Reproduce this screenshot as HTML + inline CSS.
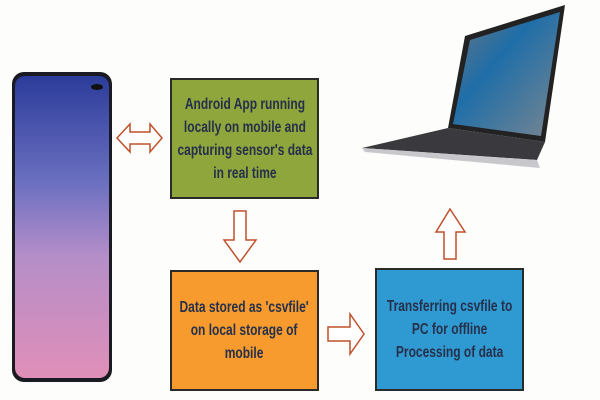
<!DOCTYPE html>
<html><head><style>
body{margin:0;width:600px;height:400px;background:#fdfdfb;position:relative;overflow:hidden;font-family:"Liberation Sans",sans-serif}
.box{position:absolute;border:2px solid #2a2a2a;box-sizing:border-box;display:flex;align-items:center;justify-content:center;text-align:center;color:#26304a;font-size:16px;font-weight:bold;line-height:23px}
.box span{display:inline-block;transform:scaleX(0.75);white-space:nowrap}
svg{position:absolute;left:0;top:0}
</style></head><body>
<svg width="600" height="400">
<defs>
<linearGradient id="ph" x1="0" y1="0" x2="0" y2="1">
<stop offset="0" stop-color="#2c3c9a"/><stop offset="0.35" stop-color="#6a6fc0"/><stop offset="0.6" stop-color="#b58ec8"/><stop offset="1" stop-color="#e08fb8"/></linearGradient>
<linearGradient id="sc" x1="0" y1="0" x2="1" y2="1">
<stop offset="0" stop-color="#6a747e"/><stop offset="0.4" stop-color="#1f6ea8"/><stop offset="1" stop-color="#7a8690"/></linearGradient>
</defs>
<rect x="12" y="72" width="100" height="310" rx="12" fill="#1a1a22"/>
<rect x="15" y="76" width="94" height="302" rx="10" fill="url(#ph)"/>
<ellipse cx="97" cy="87" rx="6" ry="3" fill="#111"/>
<polygon points="465,36 565,5 545,142 448,128" fill="#222"/>
<polygon points="470,40 560,12 541,136 453,124" fill="url(#sc)"/>
<polygon points="448,128 545,142 537,160 362,148" fill="#3a3a3e"/>
<polygon points="362,148 537,160 540,168 365,152" fill="#c8c8cc"/>
<polygon points="117,138 130,124 130,132 150,132 150,124 162,138 150,152 150,144 130,144 130,152" fill="#fff" stroke="#c0502a" stroke-width="1.5"/>
<polygon points="234,211 246,211 246,240 256,240 240,262 224,240 234,240" fill="#fff" stroke="#c0502a" stroke-width="1.5"/>
<polygon points="328,327 350,327 350,314 364,334 350,354 350,341 328,341" fill="#fff" stroke="#c0502a" stroke-width="1.5"/>
<polygon points="444,259 456,259 456,232 465,232 450,209 436,232 444,232" fill="#fff" stroke="#c0502a" stroke-width="1.5"/>
</svg>
<div class="box" style="left:170px;top:78px;width:149px;height:121px;background:#8ea63c"><span>Android App running<br>locally on mobile and<br>capturing sensor's data<br>in real time</span></div>
<div class="box" style="left:170px;top:270px;width:149px;height:121px;background:#f79b2e"><span>Data stored as 'csvfile'<br>on local storage of<br>mobile</span></div>
<div class="box" style="left:375px;top:268px;width:149px;height:123px;background:#2f9ad2"><span>Transferring csvfile to<br>PC for offline<br>Processing of data</span></div>
</body></html>
